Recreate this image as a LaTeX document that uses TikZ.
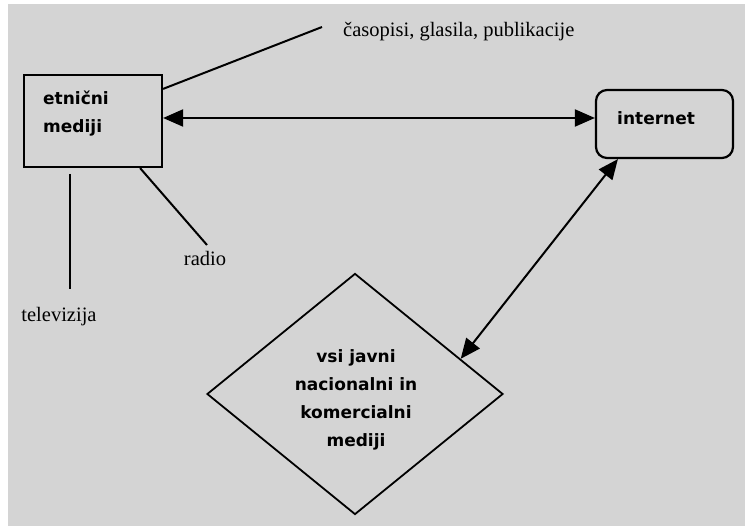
\documentclass[tikz,border=0pt]{standalone}
\usepackage{fontspec}
\setmainfont{Liberation Serif}
\newfontfamily\boxfont{DejaVu Sans}
\usetikzlibrary{arrows.meta,shapes.geometric,calc}

\definecolor{bggray}{RGB}{212,212,212}

\tikzset{
  frame/.style={draw=black, line width=2.2pt, fill=bggray, inner sep=0pt},
  boxtext/.style={font=\boxfont\bfseries\fontsize{17}{28}\selectfont, inner sep=0pt},
  plaintext/.style={font=\fontsize{20.5}{24}\selectfont, inner sep=0pt},
  link/.style={draw=black, line width=2pt},
  twoway/.style={link, {Triangle[length=20pt,width=17pt]}-{Triangle[length=20pt,width=17pt]}}
}

\begin{document}
\begin{tikzpicture}[x=1pt,y=-1pt]
  % page and grey backdrop
  \path[fill=white] (0,0) rectangle (745,526);
  \path[fill=bggray] (8,4) rectangle (745,526);
  \useasboundingbox (0,0) rectangle (745,526);

  % boxes
  \node[frame, minimum width=138pt, minimum height=92pt] (etn) at (93,121) {};
  \node[boxtext, anchor=north west, align=left] (etntext) at (43,91) {etnični\\mediji};

  \node[frame, rounded corners=11pt, minimum width=137pt, minimum height=68pt] (inet) at (664.5,124) {};
  \node[boxtext, anchor=west] (inettext) at (617,118) {internet};

  \node[frame, diamond, minimum width=296pt, minimum height=241pt, line width=1.8pt] (dia) at (355,394) {};
  \node[boxtext, align=center] (diatext) at (356,399.5) {vsi javni\\nacionalni in\\komercialni\\mediji};

  % two-way connectors
  \draw[twoway] ([yshift=3pt]etn.east) -- ([yshift=6pt]inet.west);
  \draw[twoway] ([xshift=23pt]inet.south west) -- ($(dia.north)!0.71!(dia.east)$);

  % media labels and their leader lines
  \node[plaintext, anchor=west] (cas) at (343,32) {časopisi, glasila, publikacije};
  \node[plaintext] (radio) at (205,258) {radio};
  \node[plaintext] (tv) at (59,317) {televizija};

  \coordinate (casend) at (322,27);
  \coordinate (radioend) at (207,245);
  \coordinate (tvtop) at (70,174);
  \coordinate (tvbot) at (70,289);

  \draw[link] ([yshift=-15pt]etn.north east) -- (casend);
  \draw[link] ([xshift=-23pt]etn.south east) -- (radioend);
  \draw[link] (tvtop) -- (tvbot);
\end{tikzpicture}
\end{document}
